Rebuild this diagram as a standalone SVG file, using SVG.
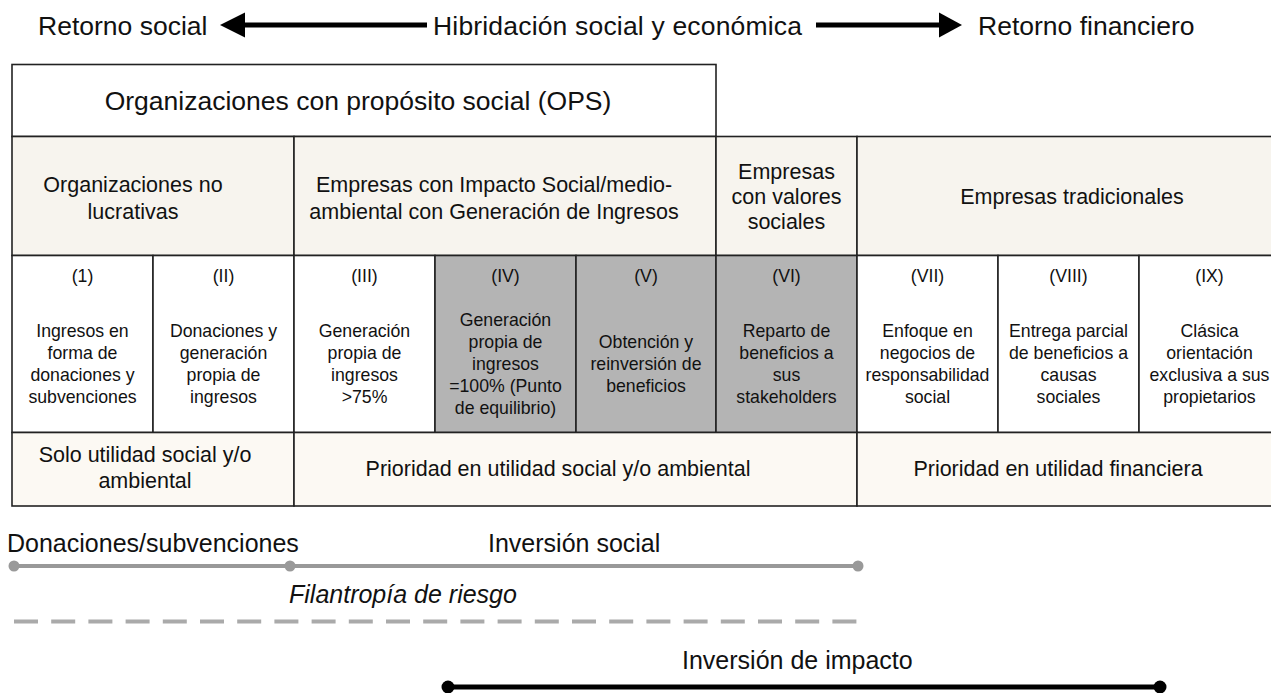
<svg xmlns="http://www.w3.org/2000/svg" width="1271" height="693" viewBox="0 0 1271 693">
<style>
text{font-family:"Liberation Sans",Arial,Helvetica,sans-serif;fill:#111;}
.top{font-size:26.5px;}
.ops{font-size:26.5px;text-anchor:middle;}
.hd{font-size:21.5px;text-anchor:middle;}
.c{font-size:17.7px;text-anchor:middle;}
.bl{font-size:25px;}
.cell{stroke:#222;stroke-width:1.6;}
.w{fill:#ffffff;}
.b{fill:#f7f4ee;}
.b2{fill:#fcf9f3;}
.g{fill:#b4b4b4;}
</style>
<defs>
<marker id="gdot" markerWidth="12" markerHeight="12" refX="6" refY="6" markerUnits="userSpaceOnUse"><circle cx="6" cy="6" r="5.5" fill="#999"/></marker>
<marker id="kdot" markerWidth="14" markerHeight="14" refX="7" refY="7" markerUnits="userSpaceOnUse"><circle cx="7" cy="7" r="6.5" fill="#000"/></marker>
</defs>

<g id="header-axis">
<text class="top" x="38" y="35">Retorno social</text>
<text class="top" x="433" y="35" textLength="369">Hibridación social y económica</text>
<text class="top" x="978" y="35">Retorno financiero</text>
</g>

<g id="connectors">
<line x1="240" y1="25" x2="427" y2="25" stroke="#000" stroke-width="5"/>
<polygon points="220,25 245,12.5 245,37.5" fill="#000"/>
<line x1="816" y1="25" x2="942" y2="25" stroke="#000" stroke-width="5"/>
<polygon points="962,25 939,12.5 939,37.5" fill="#000"/>
<line x1="14" y1="566" x2="858" y2="566" stroke="#999" stroke-width="4" marker-start="url(#gdot)" marker-end="url(#gdot)"/>
<circle cx="290" cy="566" r="5.5" fill="#999"/>
<line x1="14" y1="621.5" x2="857" y2="621.5" stroke="#aaa" stroke-width="4" stroke-dasharray="24 13.2"/>
<line x1="448" y1="687" x2="1160" y2="687" stroke="#000" stroke-width="5" marker-start="url(#kdot)" marker-end="url(#kdot)"/>
</g>

<g id="ops">
<rect class="cell w" x="12" y="64.5" width="704" height="72"/>
<text class="ops" x="358" y="110">Organizaciones con propósito social (OPS)</text>
</g>

<g id="no-lucrativas">
<rect class="cell b" x="12" y="136.5" width="282" height="119"/>
<text class="hd" x="133" y="192">Organizaciones no</text>
<text class="hd" x="133" y="219">lucrativas</text>
</g>
<g id="empresas-impacto">
<rect class="cell b" x="294" y="136.5" width="422" height="119"/>
<text class="hd" x="494" y="192">Empresas con Impacto Social/medio-</text>
<text class="hd" x="494" y="219">ambiental con Generación de Ingresos</text>
</g>
<g id="empresas-valores">
<rect class="cell b" x="716" y="136.5" width="141" height="119"/>
<text class="hd" x="786.5" y="179">Empresas</text>
<text class="hd" x="786.5" y="204">con valores</text>
<text class="hd" x="786.5" y="229">sociales</text>
</g>
<g id="empresas-tradicionales">
<rect class="cell b" x="857" y="136.5" width="430" height="119"/>
<text class="hd" x="1072" y="204">Empresas tradicionales</text>
</g>

<g id="c1">
<rect class="cell w" x="12" y="255.5" width="141" height="177"/>
<text class="c" x="82.5" y="282">(1)</text>
<text class="c" x="82.5" y="337">Ingresos en</text>
<text class="c" x="82.5" y="359">forma de</text>
<text class="c" x="82.5" y="381">donaciones y</text>
<text class="c" x="82.5" y="403">subvenciones</text>
</g>
<g id="c2">
<rect class="cell w" x="153" y="255.5" width="141" height="177"/>
<text class="c" x="223.5" y="282">(II)</text>
<text class="c" x="223.5" y="337">Donaciones y</text>
<text class="c" x="223.5" y="359">generación</text>
<text class="c" x="223.5" y="381">propia de</text>
<text class="c" x="223.5" y="403">ingresos</text>
</g>
<g id="c3">
<rect class="cell w" x="294" y="255.5" width="141" height="177"/>
<text class="c" x="364.5" y="282">(III)</text>
<text class="c" x="364.5" y="337">Generación</text>
<text class="c" x="364.5" y="359">propia de</text>
<text class="c" x="364.5" y="381">ingresos</text>
<text class="c" x="364.5" y="403">&gt;75%</text>
</g>
<g id="c4">
<rect class="cell g" x="435" y="255.5" width="141" height="177"/>
<text class="c" x="505.5" y="282">(IV)</text>
<text class="c" x="505.5" y="326">Generación</text>
<text class="c" x="505.5" y="348">propia de</text>
<text class="c" x="505.5" y="370">ingresos</text>
<text class="c" x="505.5" y="392">=100% (Punto</text>
<text class="c" x="505.5" y="414">de equilibrio)</text>
</g>
<g id="c5">
<rect class="cell g" x="576" y="255.5" width="140" height="177"/>
<text class="c" x="646" y="282">(V)</text>
<text class="c" x="646" y="348">Obtención y</text>
<text class="c" x="646" y="370">reinversión de</text>
<text class="c" x="646" y="392">beneficios</text>
</g>
<g id="c6">
<rect class="cell g" x="716" y="255.5" width="141" height="177"/>
<text class="c" x="786.5" y="282">(VI)</text>
<text class="c" x="786.5" y="337">Reparto de</text>
<text class="c" x="786.5" y="359">beneficios a</text>
<text class="c" x="786.5" y="381">sus</text>
<text class="c" x="786.5" y="403">stakeholders</text>
</g>
<g id="c7">
<rect class="cell w" x="857" y="255.5" width="141" height="177"/>
<text class="c" x="927.5" y="282">(VII)</text>
<text class="c" x="927.5" y="337">Enfoque en</text>
<text class="c" x="927.5" y="359">negocios de</text>
<text class="c" x="927.5" y="381">responsabilidad</text>
<text class="c" x="927.5" y="403">social</text>
</g>
<g id="c8">
<rect class="cell w" x="998" y="255.5" width="141" height="177"/>
<text class="c" x="1068.5" y="282">(VIII)</text>
<text class="c" x="1068.5" y="337">Entrega parcial</text>
<text class="c" x="1068.5" y="359">de beneficios a</text>
<text class="c" x="1068.5" y="381">causas</text>
<text class="c" x="1068.5" y="403">sociales</text>
</g>
<g id="c9">
<rect class="cell w" x="1139" y="255.5" width="150" height="177"/>
<text class="c" x="1209.5" y="282">(IX)</text>
<text class="c" x="1209.5" y="337">Clásica</text>
<text class="c" x="1209.5" y="359">orientación</text>
<text class="c" x="1209.5" y="381">exclusiva a sus</text>
<text class="c" x="1209.5" y="403">propietarios</text>
</g>

<g id="solo-utilidad">
<rect class="cell b2" x="12" y="432.5" width="282" height="73.5"/>
<text class="hd" x="145" y="462">Solo utilidad social y/o</text>
<text class="hd" x="145" y="488">ambiental</text>
</g>
<g id="prioridad-social">
<rect class="cell b2" x="294" y="432.5" width="563" height="73.5"/>
<text class="hd" x="558" y="476">Prioridad en utilidad social y/o ambiental</text>
</g>
<g id="prioridad-financiera">
<rect class="cell b2" x="857" y="432.5" width="430" height="73.5"/>
<text class="hd" x="1058" y="476">Prioridad en utilidad financiera</text>
</g>

<g id="investment-labels">
<text class="bl" x="7" y="552">Donaciones/subvenciones</text>
<text class="bl" x="488" y="552">Inversión social</text>
<text class="bl" x="289" y="603" font-style="italic">Filantropía de riesgo</text>
<text class="bl" x="682" y="669">Inversión de impacto</text>
</g>
</svg>
